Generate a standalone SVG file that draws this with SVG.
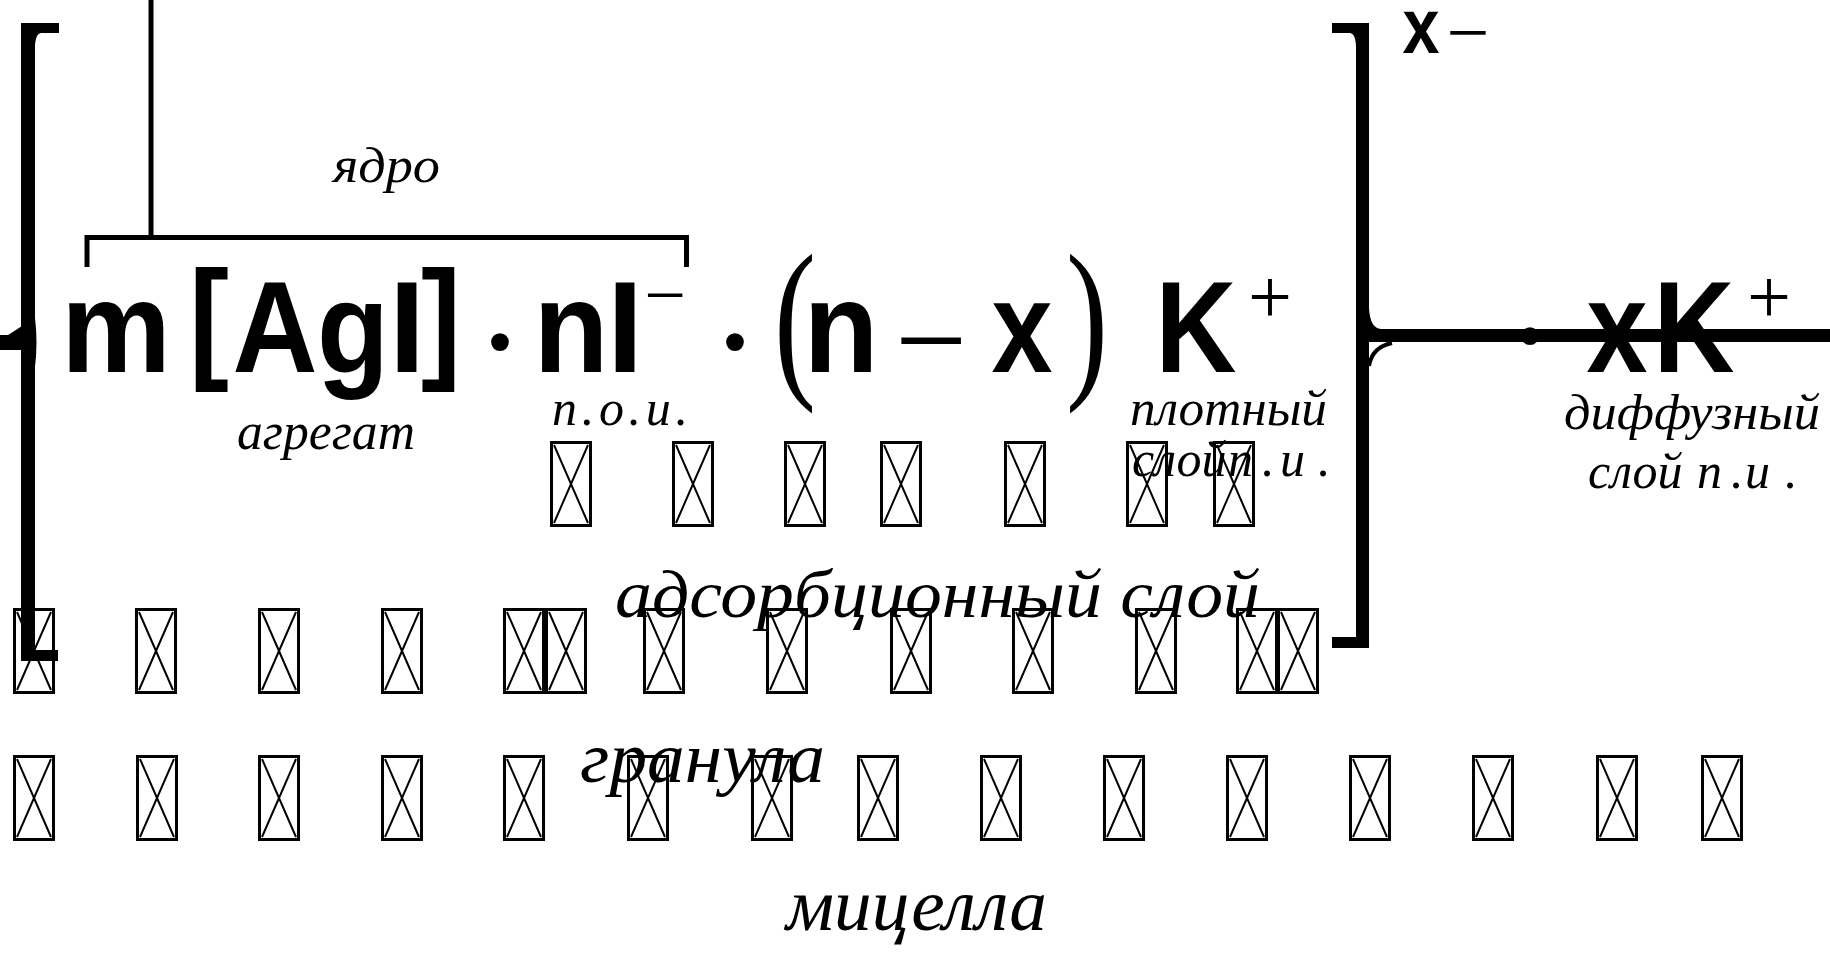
<svg xmlns="http://www.w3.org/2000/svg" width="1830" height="953" viewBox="0 0 1830 953">
<style>
.f{font-family:"Liberation Sans",Arial,sans-serif;font-weight:bold;font-size:130px;fill:#000}
.s{font-family:"Liberation Serif","Times New Roman",serif;fill:#000}
.i{font-family:"Liberation Serif","Times New Roman",serif;font-style:italic;fill:#000}
.ln{stroke:#000;fill:none}
.br{fill:#000}
</style>
<defs>
<g id="tofu">
<rect x="1.5" y="1.5" width="39" height="83" fill="none" stroke="#000" stroke-width="3"/>
<path d="M4,4 L38,82 M38,4 L4,82" stroke="#000" stroke-width="2" fill="none"/>
</g>
</defs>
<rect width="1830" height="953" fill="#fff"/>

<g id="connectors">
<line class="ln" x1="151" y1="0" x2="151" y2="239" stroke-width="5"/>
<path class="ln" d="M87,267 V237.5 H686.5 V267" stroke-width="5"/>
</g>

<g id="left-bracket" class="br">
<path d="M21,23 H59 V33 H41 Q35,34 35,48 V650 H58 V661 H21 Z"/>
<path d="M0,335 H22 V350 H0 Z"/>
<path d="M8,335 Q16,330 22,326 V335 Z"/>
<path class="ln" d="M34,318 Q37,342 34,367" stroke="#000" stroke-width="2"/>
</g>

<g id="right-bracket" class="br">
<path d="M1369,23 H1332 V33 H1350 Q1356,34 1356,48 V637 H1332 V648 H1369 Z"/>
</g>

<g id="dots" class="s" text-anchor="middle">
<text x="500" y="392" font-size="150">·</text>
<text x="735" y="392" font-size="150">·</text>
<text x="1530" y="386" font-size="150">·</text>
</g>

<g id="diffuse-line" class="br">
<rect x="1356" y="329" width="474" height="13"/>
<path d="M1369,308 Q1370,329 1382,329 H1369 Z"/>
<path class="ln" d="M1392,343 Q1372,347 1369,366" stroke="#000" stroke-width="4"/>
</g>

<g id="formula" class="f" text-anchor="middle">
<text x="116" y="372" textLength="110" lengthAdjust="spacingAndGlyphs">m</text>
<text x="209" y="364" font-size="134" textLength="40" lengthAdjust="spacingAndGlyphs">[</text>
<text x="275" y="372" textLength="85" lengthAdjust="spacingAndGlyphs">A</text>
<text x="353" y="372" textLength="72" lengthAdjust="spacingAndGlyphs">g</text>
<text x="407" y="372">I</text>
<text x="441" y="364" font-size="134" textLength="40" lengthAdjust="spacingAndGlyphs">]</text>
<text x="571" y="372" textLength="75" lengthAdjust="spacingAndGlyphs">n</text>
<text x="625" y="372">I</text>
<text x="841" y="372" textLength="75" lengthAdjust="spacingAndGlyphs">n</text>
<text x="1022" y="372" textLength="61" lengthAdjust="spacingAndGlyphs">x</text>
<text x="1196" y="372" textLength="81" lengthAdjust="spacingAndGlyphs">K</text>
<text x="1421" y="53" font-size="78" textLength="37" lengthAdjust="spacingAndGlyphs">x</text>
<text x="1617" y="372" textLength="61" lengthAdjust="spacingAndGlyphs">x</text>
<text x="1694" y="372" textLength="81" lengthAdjust="spacingAndGlyphs">K</text>
</g>

<g id="formula-signs" class="s" text-anchor="middle">
<text x="665" y="320" font-size="74">−</text>
<text x="795" y="376" font-size="176" textLength="42" lengthAdjust="spacingAndGlyphs">(</text>
<text x="931" y="383" font-size="128">−</text>
<text x="1087" y="376" font-size="176" textLength="42" lengthAdjust="spacingAndGlyphs">)</text>
<text x="1270" y="323" font-size="78">+</text>
<text x="1468" y="58" font-size="76">−</text>
<text x="1769" y="323" font-size="78">+</text>
</g>

<g id="labels" class="i">
<text x="333" y="182" font-size="50" textLength="107" lengthAdjust="spacingAndGlyphs">ядро</text>
<text x="237" y="449" font-size="52" textLength="178" lengthAdjust="spacingAndGlyphs">агрегат</text>
<text x="552" y="425" font-size="50" textLength="136" lengthAdjust="spacing">п.о.и.</text>
<text x="1130" y="425" font-size="50" textLength="197" lengthAdjust="spacingAndGlyphs">плотный</text>
<text x="1132" y="476" font-size="50">слой <tspan x="1228">п</tspan><tspan x="1262">.</tspan><tspan x="1280">и</tspan><tspan x="1318">.</tspan></text>
<text x="1564" y="429" font-size="50" textLength="256" lengthAdjust="spacingAndGlyphs">диффузный</text>
<text x="1588" y="488" font-size="50">слой <tspan x="1697">п</tspan><tspan x="1731">.</tspan><tspan x="1745">и</tspan><tspan x="1785">.</tspan></text>
<text x="615" y="617" font-size="68" textLength="645" lengthAdjust="spacingAndGlyphs">адсорбционный слой</text>
<text x="580" y="782" font-size="72" textLength="245" lengthAdjust="spacingAndGlyphs">гранула</text>
<text x="786" y="930" font-size="73" textLength="261" lengthAdjust="spacingAndGlyphs">мицелла</text>
</g>

<g id="row1">
<use href="#tofu" x="550" y="441"/><use href="#tofu" x="672" y="441"/><use href="#tofu" x="784" y="441"/><use href="#tofu" x="880" y="441"/><use href="#tofu" x="1004" y="441"/><use href="#tofu" x="1126" y="441"/><use href="#tofu" x="1213" y="441"/>
</g>
<g id="row2">
<use href="#tofu" x="13" y="608"/><use href="#tofu" x="135" y="608"/><use href="#tofu" x="258" y="608"/><use href="#tofu" x="381" y="608"/><use href="#tofu" x="503" y="608"/><use href="#tofu" x="545" y="608"/><use href="#tofu" x="643" y="608"/><use href="#tofu" x="766" y="608"/><use href="#tofu" x="890" y="608"/><use href="#tofu" x="1012" y="608"/><use href="#tofu" x="1135" y="608"/><use href="#tofu" x="1236" y="608"/><use href="#tofu" x="1277" y="608"/>
</g>
<g id="row3">
<use href="#tofu" x="13" y="755"/><use href="#tofu" x="136" y="755"/><use href="#tofu" x="258" y="755"/><use href="#tofu" x="381" y="755"/><use href="#tofu" x="503" y="755"/><use href="#tofu" x="627" y="755"/><use href="#tofu" x="751" y="755"/><use href="#tofu" x="857" y="755"/><use href="#tofu" x="980" y="755"/><use href="#tofu" x="1103" y="755"/><use href="#tofu" x="1226" y="755"/><use href="#tofu" x="1349" y="755"/><use href="#tofu" x="1472" y="755"/><use href="#tofu" x="1596" y="755"/><use href="#tofu" x="1701" y="755"/>
</g>
</svg>
